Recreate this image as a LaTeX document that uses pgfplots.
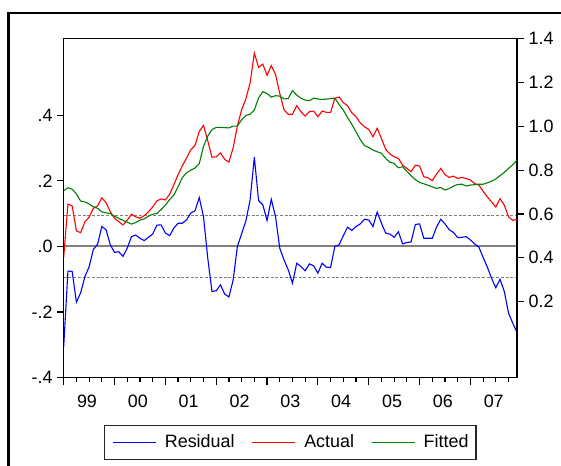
\documentclass[border=0pt]{standalone}
\usepackage{fontspec}
\setmainfont{Liberation Sans}
\usepackage{pgfplots}
\usepackage{pgfplotstable}
\pgfplotsset{compat=1.18}
\newcommand{\chartfont}{\fontsize{17.9bp}{21bp}\selectfont}
\definecolor{egreen}{RGB}{0,128,0}
\definecolor{egray}{RGB}{128,128,128}

\pgfplotstableread{
i resid actual fitted
0 -0.305 0.403 0.706
1 -0.075 0.645 0.720
2 -0.076 0.637 0.713
3 -0.170 0.523 0.692
4 -0.141 0.515 0.659
5 -0.092 0.564 0.655
6 -0.062 0.586 0.646
7 -0.009 0.626 0.633
8 0.007 0.637 0.626
9 0.061 0.674 0.610
10 0.051 0.652 0.605
11 0.005 0.610 0.602
12 -0.018 0.580 0.590
13 -0.016 0.565 0.580
14 -0.030 0.550 0.571
15 -0.005 0.572 0.563
16 0.030 0.599 0.554
17 0.035 0.587 0.561
18 0.025 0.581 0.572
19 0.018 0.592 0.578
20 0.028 0.610 0.590
21 0.038 0.632 0.599
22 0.065 0.660 0.602
23 0.066 0.669 0.620
24 0.041 0.664 0.640
25 0.033 0.690 0.666
26 0.056 0.733 0.686
27 0.071 0.780 0.724
28 0.071 0.820 0.766
29 0.081 0.856 0.788
30 0.102 0.893 0.800
31 0.109 0.913 0.810
32 0.149 0.977 0.830
33 0.091 1.004 0.909
34 -0.035 0.935 0.955
35 -0.137 0.859 0.985
36 -0.135 0.861 0.995
37 -0.117 0.879 0.995
38 -0.145 0.849 0.994
39 -0.154 0.837 0.993
40 -0.102 0.902 1.001
41 0.000 1.002 1.001
42 0.039 1.076 1.030
43 0.078 1.125 1.050
44 0.142 1.198 1.055
45 0.272 1.334 1.075
46 0.140 1.269 1.130
47 0.127 1.284 1.158
48 0.079 1.233 1.150
49 0.144 1.277 1.133
50 0.091 1.237 1.140
51 -0.005 1.150 1.138
52 -0.041 1.076 1.125
53 -0.071 1.055 1.127
54 -0.112 1.055 1.163
55 -0.051 1.094 1.143
56 -0.061 1.067 1.128
57 -0.074 1.047 1.120
58 -0.053 1.067 1.117
59 -0.059 1.070 1.129
60 -0.081 1.044 1.125
61 -0.051 1.070 1.123
62 -0.063 1.064 1.124
63 -0.064 1.064 1.127
64 0.000 1.128 1.129
65 0.005 1.134 1.100
66 0.033 1.108 1.074
67 0.059 1.094 1.040
68 0.049 1.062 1.010
69 0.061 1.044 0.975
70 0.069 1.016 0.940
71 0.083 0.998 0.912
72 0.081 0.986 0.904
73 0.061 0.953 0.892
74 0.105 0.991 0.884
75 0.071 0.945 0.877
76 0.041 0.895 0.854
77 0.038 0.874 0.836
78 0.028 0.861 0.831
79 0.045 0.854 0.811
80 0.008 0.823 0.816
81 0.012 0.808 0.795
82 0.014 0.793 0.775
83 0.067 0.823 0.757
84 0.069 0.819 0.744
85 0.025 0.770 0.738
86 0.025 0.765 0.731
87 0.025 0.752 0.724
88 0.059 0.782 0.717
89 0.083 0.808 0.721
90 0.069 0.780 0.709
91 0.051 0.767 0.716
92 0.043 0.773 0.727
93 0.027 0.762 0.735
94 0.028 0.767 0.736
95 0.030 0.762 0.728
96 0.020 0.755 0.732
97 0.008 0.739 0.734
98 -0.002 0.732 0.736
99 -0.033 0.704 0.736
100 -0.063 0.678 0.742
101 -0.097 0.655 0.750
102 -0.126 0.632 0.760
103 -0.100 0.670 0.775
104 -0.137 0.640 0.790
105 -0.203 0.587 0.808
106 -0.234 0.571 0.825
107 -0.262 0.576 0.846
}\datatable

\begin{document}
\chartfont
\begin{tikzpicture}
\useasboundingbox (0,0) rectangle (561bp,466bp);
\fill[white] (0,0) rectangle (561bp,466bp);
\draw[line width=2.2bp] (8.4bp,0) -- (8.4bp,452.7bp) -- (562bp,452.7bp);

% x-axis year ticks (overlay)
\begin{axis}[
  at={(63.7bp,88.3bp)}, anchor=south west,
  scale only axis, width=453.3bp, height=339bp,
  xmin=0, xmax=107, ymin=0, ymax=1,
  hide y axis,
  axis line style={line width=1.4bp},
  tick align=outside, xtick pos=left,
  xtick={0,12,24,36,48,60,72,84,96},
  xticklabels={,,,,,,,,},
  minor xtick={3,6,9,15,18,21,27,30,33,39,42,45,51,54,57,63,66,69,75,78,81,87,90,93,99,102,105},
  major tick length=7bp, minor tick length=4bp,
  every tick/.style={black, line width=1.2bp},
]
\end{axis}

% left axis: residual
\begin{axis}[
  at={(63.7bp,88.3bp)}, anchor=south west,
  scale only axis, width=453.3bp, height=339bp,
  xmin=0, xmax=107, ymin=-0.4, ymax=0.6335,
  axis line style={line width=1.4bp},
  tick align=outside,
  xtick={5.5,17.5,29.5,41.5,53.5,65.5,77.5,89.5,101.5},
  xticklabels={99,00,01,02,03,04,05,06,07},
  xtick style={draw=none},
  ytick={-0.4,-0.2,0,0.2,0.4},
  yticklabels={-.4,-.2,.0,.2,.4},
  ytick pos=left,
  major tick length=6.5bp,
  every tick/.style={black, line width=1.2bp},
  tick label style={font=\chartfont},
  xticklabel style={yshift=-4.3bp},
  yticklabel style={xshift=1.6bp},
]
\addplot[egray, line width=2bp] coordinates {(0,0) (107,0)};
\addplot[egray, line width=0.8bp, dash pattern=on 3bp off 1.7bp] coordinates {(0,0.0955) (107,0.0955)};
\addplot[egray, line width=0.8bp, dash pattern=on 3bp off 1.7bp] coordinates {(0,-0.0955) (107,-0.0955)};
\addplot[blue, line width=1.1bp] table[x=i, y=resid] {\datatable};
\end{axis}

% right axis: actual and fitted
\begin{axis}[
  at={(63.7bp,88.3bp)}, anchor=south west,
  scale only axis, width=453.3bp, height=339bp,
  xmin=0, xmax=107, ymin=-0.147, ymax=1.4,
  hide x axis,
  axis line style={line width=1.4bp},
  tick align=outside,
  ytick={0.2,0.4,0.6,0.8,1.0,1.2,1.4},
  yticklabels={0.2,0.4,0.6,0.8,1.0,1.2,1.4},
  ytick pos=right, yticklabel pos=right,
  major tick length=7bp,
  every tick/.style={black, line width=1.2bp},
  tick label style={font=\chartfont},
  yticklabel style={xshift=-1.5bp},
  legend image code/.code={\draw[#1] (0bp,0bp) -- (43bp,0bp);},
  legend style={at={(0.5,-0.191)}, anchor=center, legend columns=3,
    draw=black!85, line width=1.2bp, font=\chartfont,
    inner xsep=7.5bp, inner ysep=4.4bp,
    nodes={inner xsep=0bp, inner ysep=5bp},
    /tikz/every even column/.append style={column sep=17bp}},
  legend cell align=left,
]
\addlegendimage{blue, line width=1.1bp}
\addlegendentry{\hspace{8.6bp}Residual}
\addplot[red, line width=1.1bp] table[x=i, y=actual] {\datatable};
\addlegendentry{\hspace{8.6bp}Actual}
\addplot[egreen, line width=1.1bp] table[x=i, y=fitted] {\datatable};
\addlegendentry{\hspace{8.6bp}Fitted}
\end{axis}
\end{tikzpicture}
\end{document}
